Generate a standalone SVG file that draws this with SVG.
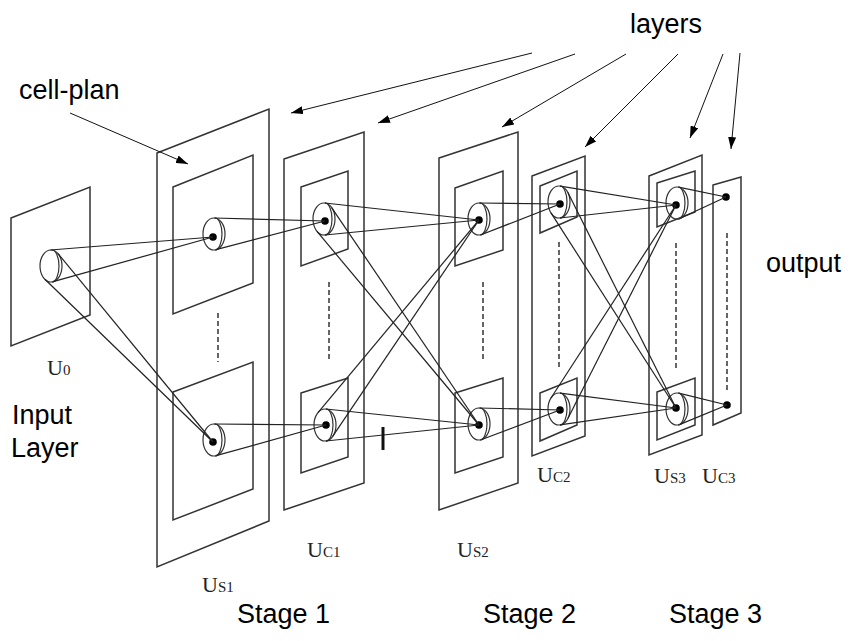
<svg xmlns="http://www.w3.org/2000/svg" width="850" height="641" viewBox="0 0 850 641">
<style>
.pl{fill:none;stroke:#333;stroke-width:1.5;stroke-linejoin:miter}
.ln{fill:none;stroke:#222;stroke-width:1.2}
.ds{fill:none;stroke:#333;stroke-width:1.5;stroke-dasharray:5 3}
.el{fill:none;stroke:#333;stroke-width:1.2}
.dot{fill:#000}
.ar{fill:none;stroke:#111;stroke-width:1}
.lb{font-family:"Liberation Sans",Arial,sans-serif;font-size:27px;fill:#000}
.u{font-family:"Liberation Serif","Times New Roman",serif;font-size:22px;fill:#222}
.sub{font-size:15px}
</style>
<defs>
<marker id="ah" viewBox="0 0 12 8" refX="12" refY="4" markerWidth="12" markerHeight="8" markerUnits="userSpaceOnUse" orient="auto">
<path d="M0,0 L12,4 L0,8 z" fill="#000"/>
</marker>
</defs>
<rect width="850" height="641" fill="#fff"/>

<g id="U0">
<polygon class="pl" points="11,218 90,187 90,315 11,346"/>
<ellipse class="el" cx="51" cy="266" rx="11" ry="16"/>
<path class="el" d="M52,250 A7 16 0 0 1 52,282"/>
<text class="u" x="47" y="375">U<tspan class="sub">0</tspan></text>
</g>

<g id="US1">
<polygon class="pl" points="157,153 269,109 269,521 157,567"/>
<polygon class="pl" points="173,187 253,155 253,283 173,314"/>
<polygon class="pl" points="173,392 253,362 253,489 173,520"/>
<line class="ds" x1="218" y1="313" x2="218" y2="362"/>
<ellipse class="el" cx="214" cy="234" rx="11" ry="16"/>
<path class="el" d="M215,218 A7 16 0 0 1 215,250"/>
<circle class="dot" cx="213" cy="237" r="3.8"/>
<ellipse class="el" cx="214" cy="440" rx="11" ry="16"/>
<path class="el" d="M215,424 A7 16 0 0 1 215,456"/>
<circle class="dot" cx="213" cy="442" r="3.8"/>
<text class="u" x="202" y="592">U<tspan class="sub">S1</tspan></text>
</g>

<g id="UC1">
<polygon class="pl" points="284,159 364,132 364,483 284,510"/>
<polygon class="pl" points="301,187 348,171 348,249 301,266"/>
<polygon class="pl" points="301,393 348,378 348,457 301,473"/>
<line class="ds" x1="329" y1="282" x2="329" y2="360"/>
<ellipse class="el" cx="324" cy="219" rx="11" ry="16"/>
<path class="el" d="M325,203 A7 16 0 0 1 325,235"/>
<circle class="dot" cx="325" cy="221" r="3.8"/>
<ellipse class="el" cx="325" cy="425" rx="11" ry="16"/>
<path class="el" d="M326,409 A7 16 0 0 1 326,441"/>
<circle class="dot" cx="326" cy="425" r="3.8"/>
<text class="u" x="307" y="557">U<tspan class="sub">C1</tspan></text>
</g>

<g id="US2">
<polygon class="pl" points="439,158 518,132 518,483 439,510"/>
<polygon class="pl" points="455,188 503,171 503,250 455,266"/>
<polygon class="pl" points="455,393 503,378 503,457 455,473"/>
<line class="ds" x1="483" y1="282" x2="483" y2="360"/>
<ellipse class="el" cx="479" cy="219" rx="11" ry="16"/>
<path class="el" d="M480,203 A7 16 0 0 1 480,235"/>
<circle class="dot" cx="479" cy="220" r="3.8"/>
<ellipse class="el" cx="479" cy="424" rx="11" ry="16"/>
<path class="el" d="M480,408 A7 16 0 0 1 480,440"/>
<circle class="dot" cx="479" cy="425" r="3.8"/>
<text class="u" x="457" y="557">U<tspan class="sub">S2</tspan></text>
</g>

<g id="UC2">
<polygon class="pl" points="532,176 585,156 585,436 532,456"/>
<polygon class="pl" points="540,186 577,171 577,217 540,233"/>
<polygon class="pl" points="540,393 577,378 577,425 540,441"/>
<line class="ds" x1="559" y1="242" x2="559" y2="367"/>
<ellipse class="el" cx="559" cy="202" rx="11" ry="16"/>
<path class="el" d="M560,186 A7 16 0 0 1 560,218"/>
<circle class="dot" cx="560" cy="204" r="3.8"/>
<ellipse class="el" cx="559" cy="409" rx="11" ry="16"/>
<path class="el" d="M560,393 A7 16 0 0 1 560,425"/>
<circle class="dot" cx="560" cy="410" r="3.8"/>
<text class="u" x="537" y="482">U<tspan class="sub">C2</tspan></text>
</g>

<g id="US3">
<polygon class="pl" points="649,176 702,155 702,435 649,455"/>
<polygon class="pl" points="657,183 695,171 695,212 657,227"/>
<polygon class="pl" points="657,392 695,378 695,425 657,440"/>
<line class="ds" x1="676" y1="243" x2="676" y2="370"/>
<ellipse class="el" cx="677" cy="203" rx="11" ry="16"/>
<path class="el" d="M678,187 A7 16 0 0 1 678,219"/>
<circle class="dot" cx="676" cy="205" r="3.8"/>
<ellipse class="el" cx="677" cy="409" rx="11" ry="16"/>
<path class="el" d="M678,393 A7 16 0 0 1 678,425"/>
<circle class="dot" cx="676" cy="408" r="3.8"/>
<text class="u" x="654" y="483">U<tspan class="sub">S3</tspan></text>
</g>

<g id="UC3">
<polygon class="pl" points="713,185 741,177 741,413 713,425"/>
<line class="ds" x1="727" y1="233" x2="727" y2="392"/>
<circle class="dot" cx="726" cy="197" r="3.8"/>
<circle class="dot" cx="727" cy="405" r="3.8"/>
<text class="u" x="702" y="483">U<tspan class="sub">C3</tspan></text>
</g>

<g id="connectors">
<line class="ln" x1="50.4" y1="250" x2="213" y2="237"/>
<line class="ln" x1="53.1" y1="281.7" x2="213" y2="237"/>
<line class="ln" x1="44.9" y1="279.3" x2="213" y2="442"/>
<line class="ln" x1="58.1" y1="253.7" x2="213" y2="442"/>
<line class="ln" x1="214.2" y1="218" x2="325" y2="221"/>
<line class="ln" x1="216" y1="249.7" x2="325" y2="221"/>
<line class="ln" x1="214.1" y1="424" x2="326" y2="425"/>
<line class="ln" x1="216.1" y1="455.7" x2="326" y2="425"/>
<line class="ln" x1="324.8" y1="203" x2="479" y2="220"/>
<line class="ln" x1="324.7" y1="235" x2="479" y2="220"/>
<line class="ln" x1="317" y1="231.4" x2="479" y2="425"/>
<line class="ln" x1="331.8" y1="207.8" x2="479" y2="425"/>
<line class="ln" x1="332.8" y1="436.2" x2="479" y2="220"/>
<line class="ln" x1="318" y1="412.6" x2="479" y2="220"/>
<line class="ln" x1="325.8" y1="409" x2="479" y2="425"/>
<line class="ln" x1="325.8" y1="441" x2="479" y2="425"/>
<line class="ln" x1="479.1" y1="203" x2="560" y2="204"/>
<line class="ln" x1="481.8" y1="234.5" x2="560" y2="204"/>
<line class="ln" x1="479.2" y1="408" x2="560" y2="410"/>
<line class="ln" x1="481.8" y1="439.5" x2="560" y2="410"/>
<line class="ln" x1="560.2" y1="186.1" x2="676" y2="205"/>
<line class="ln" x1="559.8" y1="218" x2="676" y2="205"/>
<line class="ln" x1="551" y1="212.9" x2="676" y2="408"/>
<line class="ln" x1="567.9" y1="192.6" x2="676" y2="408"/>
<line class="ln" x1="567.9" y1="418.5" x2="676" y2="205"/>
<line class="ln" x1="551" y1="398" x2="676" y2="205"/>
<line class="ln" x1="560" y1="393.1" x2="676" y2="408"/>
<line class="ln" x1="560.1" y1="424.9" x2="676" y2="408"/>
<line class="ln" x1="678.6" y1="187.2" x2="726" y2="197"/>
<line class="ln" x1="680.3" y1="218.2" x2="726" y2="197"/>
<line class="ln" x1="678.8" y1="393.2" x2="727" y2="405"/>
<line class="ln" x1="680" y1="424.4" x2="727" y2="405"/>
<line x1="383" y1="427" x2="383" y2="450" stroke="#111" stroke-width="3"/>
</g>

<g id="annotations">
<line class="ar" x1="70" y1="113" x2="188" y2="164" marker-end="url(#ah)"/>
<line class="ar" x1="532" y1="53" x2="291" y2="113" marker-end="url(#ah)"/>
<line class="ar" x1="575" y1="54" x2="378" y2="123" marker-end="url(#ah)"/>
<line class="ar" x1="626" y1="54" x2="502" y2="127" marker-end="url(#ah)"/>
<line class="ar" x1="678" y1="54" x2="585" y2="147" marker-end="url(#ah)"/>
<line class="ar" x1="723" y1="54" x2="690" y2="138" marker-end="url(#ah)"/>
<line class="ar" x1="740" y1="53" x2="731" y2="149" marker-end="url(#ah)"/>
<text class="lb" x="630" y="33">layers</text>
<text class="lb" x="19" y="99">cell-plan</text>
<text class="lb" x="766" y="272">output</text>
<text class="lb" x="12" y="424">Input</text>
<text class="lb" x="11" y="457">Layer</text>
<text class="lb" x="237" y="623">Stage 1</text>
<text class="lb" x="483" y="623">Stage 2</text>
<text class="lb" x="669" y="623">Stage 3</text>
</g>
</svg>
